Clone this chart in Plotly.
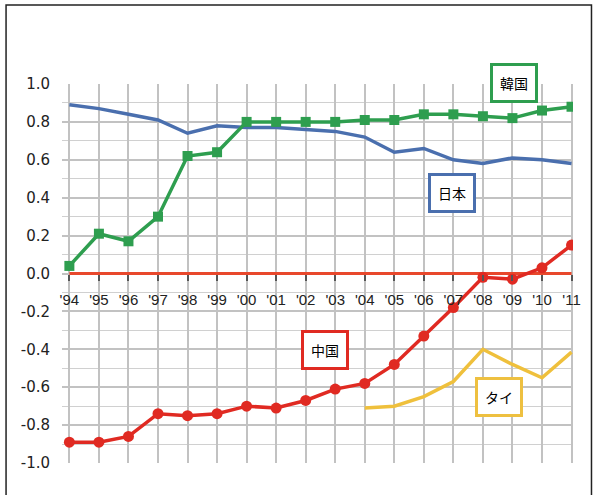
import plotly.graph_objects as go

years = list(range(1994, 2012))
year_labels = ["'94", "'95", "'96", "'97", "'98", "'99", "'00", "'01", "'02",
               "'03", "'04", "'05", "'06", "'07", "'08", "'09", "'10", "'11"]

japan = [0.89, 0.87, 0.84, 0.81, 0.74, 0.78, 0.77, 0.77, 0.76,
         0.75, 0.72, 0.64, 0.66, 0.60, 0.58, 0.61, 0.60, 0.58]
korea = [0.04, 0.21, 0.17, 0.30, 0.62, 0.64, 0.80, 0.80, 0.80,
         0.80, 0.81, 0.81, 0.84, 0.84, 0.83, 0.82, 0.86, 0.88]
china = [-0.89, -0.89, -0.86, -0.74, -0.75, -0.74, -0.70, -0.71, -0.67,
         -0.61, -0.58, -0.48, -0.33, -0.18, -0.02, -0.03, 0.03, 0.15]
thai_years = list(range(2004, 2012))
thailand = [-0.71, -0.70, -0.65, -0.57, -0.40, -0.48, -0.55, -0.415]

y_ticks = [1.0, 0.8, 0.6, 0.4, 0.2, 0.0, -0.2, -0.4, -0.6, -0.8, -1.0]
y_labels = ["1.0", "0.8", "0.6", "0.4", "0.2", "0.0", "-0.2", "-0.4", "-0.6", "-0.8", "-1.0"]

labels = [
    {"text": "韓国", "x": 2009.06, "y": 0.99, "shift": 3, "color": "#2e9e4f"},
    {"text": "日本", "x": 2006.97, "y": 0.423, "shift": 0, "color": "#4a6fae"},
    {"text": "中国", "x": 2002.65, "y": -0.403, "shift": 0, "color": "#e02a22"},
    {"text": "タイ", "x": 2008.53, "y": -0.65, "shift": 0, "color": "#eec040"},
]

FONT = "Liberation Sans, Arial, sans-serif"
YFONT = "DejaVu Sans, sans-serif"
CJK = "Noto Sans CJK JP, sans-serif"

fig = go.Figure()

# zero line (red/orange)
fig.add_trace(go.Scatter(x=years, y=[0] * len(years), mode="lines",
                         line=dict(color="#e8482c", width=3), hoverinfo="skip"))
fig.add_trace(go.Scatter(x=years, y=japan, mode="lines",
                         line=dict(color="#4a6fae", width=3.5)))
fig.add_trace(go.Scatter(x=thai_years, y=thailand, mode="lines",
                         line=dict(color="#efc03c", width=3.5)))
fig.add_trace(go.Scatter(x=years, y=korea, mode="lines+markers",
                         line=dict(color="#2e9e4f", width=3.5),
                         marker=dict(symbol="square", size=10, color="#2e9e4f")))
fig.add_trace(go.Scatter(x=years, y=china, mode="lines+markers",
                         line=dict(color="#e02a22", width=3.5),
                         marker=dict(symbol="circle", size=11, color="#e02a22")))

# white band behind x tick labels
fig.add_shape(type="rect", xref="x", yref="y", x0=1993.75, x1=2011.05,
              y0=-0.055, y1=-0.19, fillcolor="white", line_width=0, layer="below")

for lb in labels:
    fig.add_annotation(x=lb["x"], y=lb["y"], yshift=lb["shift"], text=lb["text"],
                       showarrow=False,
                       font=dict(family=CJK, size=14, color="black"),
                       bgcolor="white", bordercolor=lb["color"], borderwidth=3,
                       borderpad=7)

# outer frame
fig.add_shape(type="rect", xref="paper", yref="paper",
              x0=(6 - 62) / 511.5, x1=(592 - 62) / 511.5,
              y0=-0.2, y1=(463 - 5) / 379.0,
              line=dict(color="#222222", width=1.5), fillcolor="rgba(0,0,0,0)")

fig.update_layout(
    width=595, height=495,
    margin=dict(l=62, r=21.5, t=84, b=32),
    paper_bgcolor="white", plot_bgcolor="white",
    showlegend=False,
    font=dict(family=FONT, size=15, color="#222222"),
    xaxis=dict(range=[1993.75, 2011.05], tickvals=years, ticktext=year_labels,
               anchor="free", position=0.5, showline=False, zeroline=False,
               showgrid=True, gridcolor="#c2c2c2", gridwidth=1.5,
               ticks="outside", ticklen=6, tickcolor="#555555", tickwidth=1.5,
               ticklabelstandoff=6,
               tickfont=dict(family=FONT, size=15, color="#222222")),
    yaxis=dict(range=[-1.0, 1.0], tickvals=y_ticks, ticktext=y_labels,
               showline=False, zeroline=False, showgrid=True,
               gridcolor="#c2c2c2", gridwidth=1.5,
               minor=dict(dtick=0.1, showgrid=True, gridcolor="#d0d0d0", gridwidth=1.2),
               ticklabelstandoff=11,
               tickfont=dict(family=YFONT, size=15, color="#222222")),
)

fig.write_html("out.html")
